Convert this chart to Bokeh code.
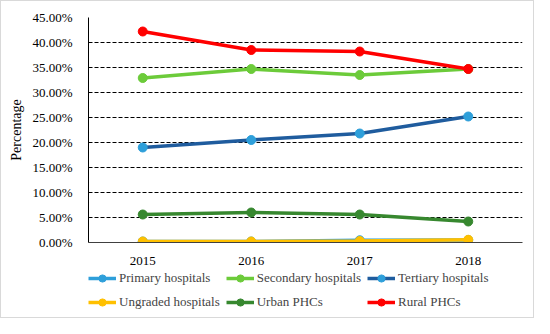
from bokeh.plotting import figure
from bokeh.layouts import column
from bokeh.models import Legend, LegendItem, FixedTicker, NumeralTickFormatter, Range1d
from bokeh.embed import file_html
from bokeh.resources import INLINE

years = [2015, 2016, 2017, 2018]
primary = [0.002, 0.002, 0.0045, 0.005]
secondary = [0.329, 0.347, 0.335, 0.347]
tertiary = [0.190, 0.205, 0.218, 0.252]
ungraded = [0.002, 0.002, 0.003, 0.0055]
urban = [0.056, 0.060, 0.056, 0.042]
rural = [0.422, 0.385, 0.382, 0.347]
y_ticks = [0, 0.05, 0.10, 0.15, 0.20, 0.25, 0.30, 0.35, 0.40, 0.45]

series = [
    ("Primary hospitals", primary, "#2E9FDA", "#2E9FDA"),
    ("Secondary hospitals", secondary, "#6CCB3A", "#6CCB3A"),
    ("Tertiary hospitals", tertiary, "#1F5C9E", "#2E9FDA"),
    ("Ungraded hospitals", ungraded, "#FFC000", "#FFC000"),
    ("Urban PHCs", urban, "#37882F", "#37882F"),
    ("Rural PHCs", rural, "#FF0000", "#FF0000"),
]

FONT = "Liberation Serif"
W = 532

p = figure(width=W, height=267, output_backend="svg", toolbar_location=None,
           x_range=Range1d(2014.5, 2018.5), y_range=Range1d(0, 0.45),
           min_border_left=87, min_border_right=11, min_border_top=16, min_border_bottom=26)
p.outline_line_color = None

for name, vals, lc, mc in series:
    p.line(years, vals, line_color=lc, line_width=3.5)
    p.scatter(years, vals, size=9, fill_color=mc, line_color=mc)

p.xaxis.ticker = FixedTicker(ticks=years)
p.yaxis.ticker = FixedTicker(ticks=y_ticks)
p.yaxis.formatter = NumeralTickFormatter(format="0.00%")
p.xgrid.grid_line_color = None
p.ygrid.grid_line_color = "black"
p.ygrid.grid_line_dash = "4 2"
p.ygrid.grid_line_width = 1

for ax in (p.xaxis, p.yaxis):
    ax.major_tick_line_color = None
    ax.minor_tick_line_color = None
    ax.major_label_text_font = FONT
    ax.major_label_text_font_size = "13px"
    ax.major_label_text_color = "black"
    ax.axis_label_text_font = FONT
    ax.axis_label_text_font_style = "normal"
    ax.axis_label_text_font_size = "14px"
    ax.axis_label_text_color = "black"
p.yaxis.axis_line_color = "black"
p.xaxis.axis_line_color = "#404040"
p.yaxis.axis_label = "Percentage"
p.yaxis.major_label_standoff = 10
p.xaxis.major_label_standoff = 8

# legend strip below the chart (its own renderers use the same series, outside its view)
p2 = figure(width=W, height=49, output_backend="svg", toolbar_location=None,
            x_range=Range1d(0, 1), y_range=Range1d(0, 1),
            min_border_left=0, min_border_right=0, min_border_top=0, min_border_bottom=0)
p2.axis.visible = False
p2.grid.visible = False
p2.outline_line_color = None

items = []
for name, vals, lc, mc in series:
    r1 = p2.line(years, vals, line_color=lc, line_width=3.5)
    r2 = p2.scatter(years, vals, size=9, fill_color=mc, line_color=mc)
    items.append(LegendItem(label=name, renderers=[r1, r2]))

legend = Legend(items=items, ncols=3, orientation="horizontal", location=(0, 6),
                glyph_width=28, glyph_height=18, spacing=6, label_standoff=3,
                label_text_font=FONT, label_text_font_size="13px",
                border_line_color=None, background_fill_alpha=0,
                padding=0, margin=0)
p2.add_layout(legend, "center")

layout = column(p, p2, spacing=0)
layout.styles = {"border": "1px solid #d9d9d9"}

open("out.html", "w").write(file_html(layout, INLINE))
